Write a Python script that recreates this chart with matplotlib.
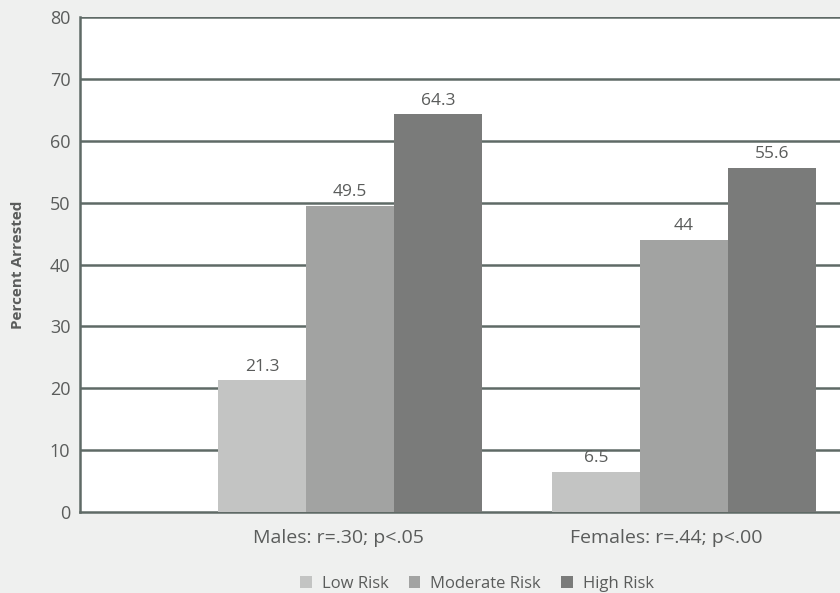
import matplotlib
matplotlib.use("Agg")
import matplotlib.pyplot as plt
import matplotlib.transforms as mtransforms
import numpy as np
from matplotlib.patches import Patch

groups = ["Males: r=.30; p<.05", "Females: r=.44; p<.00"]
series = ["Low Risk", "Moderate Risk", "High Risk"]
low_risk = [21.3, 6.5]
moderate_risk = [49.5, 44]
high_risk = [64.3, 55.6]
value_labels = [["21.3", "6.5"], ["49.5", "44"], ["64.3", "55.6"]]
yticks = [0, 10, 20, 30, 40, 50, 60, 70, 80]

colors = ["#c3c4c3", "#a2a3a2", "#7a7b7a"]
text_color = "#5a5c5b"
grid_color = "#5f6a66"
bg = "#eff0ef"

plt.rcParams["font.family"] = ["Open Sans", "DejaVu Sans"]

fig = plt.figure(figsize=(8.4, 5.93), dpi=100, facecolor=bg)
# axes extend past the right edge of the figure so the gridlines run off the page
ax = fig.add_axes([80 / 840, (593 - 512) / 593, (954 - 80) / 840, (512 - 17) / 593])
ax.set_facecolor("white")

x = np.arange(len(groups))
w = 0.2635
values = [low_risk, moderate_risk, high_risk]
for i, (vals, col) in enumerate(zip(values, colors)):
    pos = x + (i - 1) * w
    ax.bar(pos, vals, width=w, color=col, zorder=3)
    for p, v, lab in zip(pos, vals, value_labels[i]):
        ax.text(p, v + 0.9, lab, ha="center", va="bottom", fontsize=12.5,
                color=text_color, zorder=4)

ax.set_xlim(-0.808, 1.808)
ax.set_ylim(0, 80)
ax.set_yticks(yticks)
ax.set_yticklabels([str(t) for t in yticks], fontsize=13, color=text_color)
ax.set_xticks(x)
ax.set_xticklabels(groups, fontsize=14, color=text_color)
ax.tick_params(axis="y", length=0, pad=7)
ax.tick_params(axis="x", length=0, pad=12)
# nudge the group captions slightly left of the group centres
for tick, dx in zip(ax.xaxis.get_major_ticks(), [-12, -18]):
    lab = tick.label1
    lab.set_transform(lab.get_transform()
                      + mtransforms.ScaledTranslation(dx / 100, 0, fig.dpi_scale_trans))

for yv in yticks[1:]:
    ax.axhline(yv, color=grid_color, lw=1.8, zorder=1)

for s in ["top", "right"]:
    ax.spines[s].set_visible(False)
for s in ["left", "bottom"]:
    ax.spines[s].set_color(grid_color)
    ax.spines[s].set_linewidth(1.8)

fig.text(18 / 840, 1 - 265 / 593, "Percent Arrested", rotation=90, ha="center",
         va="center", fontsize=11, fontweight="bold", color=text_color)

handles = [Patch(facecolor=c, edgecolor="none") for c in colors]
fig.legend(handles, series, loc="center", bbox_to_anchor=(477 / 840, 1 - 584 / 593),
           ncol=3, frameon=False, fontsize=12, labelcolor=text_color,
           handlelength=0.7, handleheight=0.7, handletextpad=0.6, columnspacing=1.2)

fig.savefig("out.png", dpi=100, facecolor=bg)
